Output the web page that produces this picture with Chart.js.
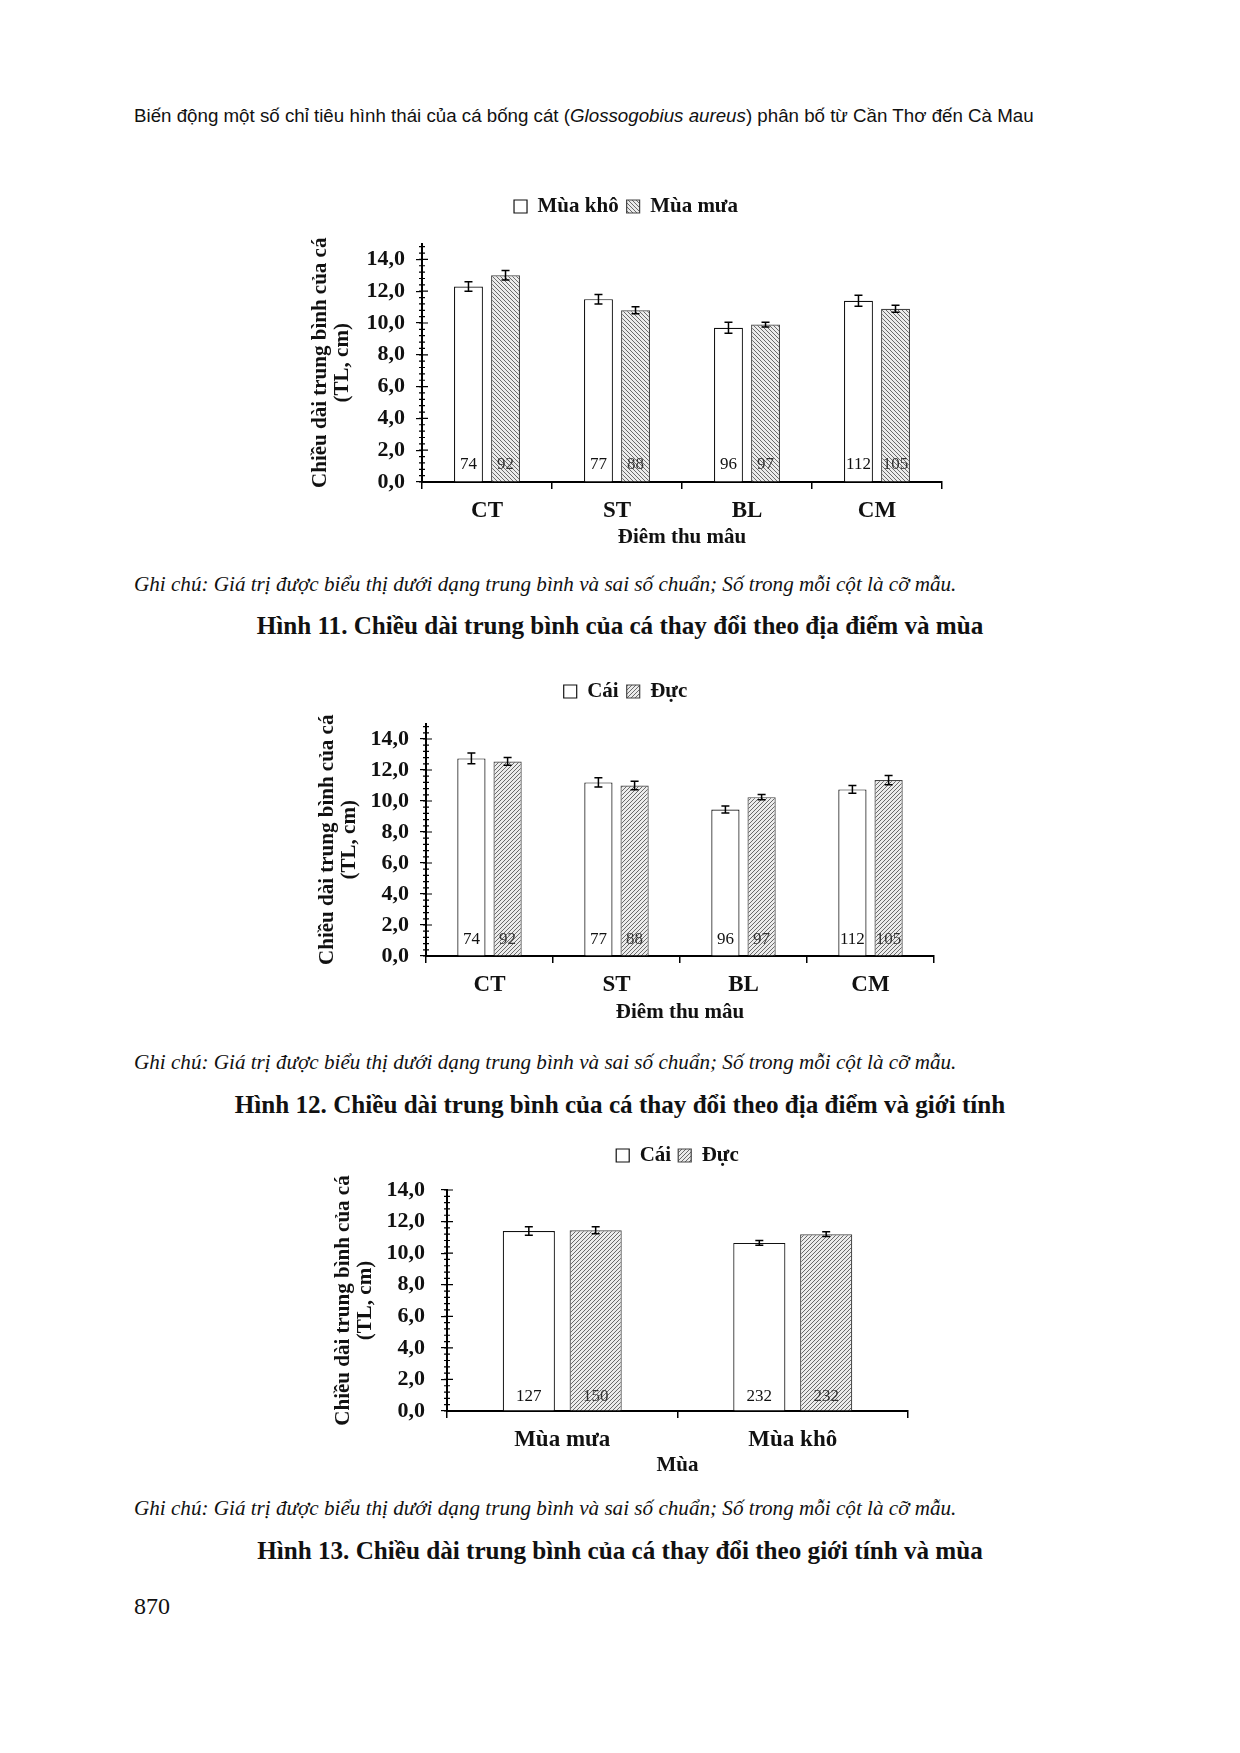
<!DOCTYPE html>
<html lang="vi">
<head>
<meta charset="utf-8">
<script src="https://cdn.jsdelivr.net/npm/chart.js@4.4.0/dist/chart.umd.min.js"></script>
<style>
  body { margin: 0; background: #fff; }
  #page { position: relative; width: 1240px; height: 1753px; background: #fff; overflow: hidden; }
  .txt { position: absolute; white-space: nowrap; line-height: 30px; color: #111; }
  .head { font-family: 'Liberation Sans', Arial, sans-serif; font-size: 18px; left: 134px; top: 101px; }
  .note { font-family: 'Liberation Serif', serif; font-style: italic; font-size: 20px; left: 134px; }
  .cap { font-family: 'Liberation Serif', serif; font-weight: bold; font-size: 22px; left: 620px; transform: translateX(-50%); }
  .num { font-family: 'Liberation Serif', serif; font-size: 24px; left: 134px; top: 1591px; }
  canvas { position: absolute; }
</style>
</head>
<body>
<div id="page">
  <div class="txt head" id="head">Biến động một số chỉ tiêu hình thái của cá bống cát (<i>Glossogobius aureus</i>) phân bố từ Cần Thơ đến Cà Mau</div>

  <canvas id="c1" width="646" height="362" style="left:300px; top:188px; width:646px; height:362px;"></canvas>
  <div class="txt note" id="note1" style="top:569px;">Ghi chú: Giá trị được biểu thị dưới dạng trung bình và sai số chuẩn; Số trong mỗi cột là cỡ mẫu.</div>
  <div class="txt cap" id="cap1" style="top:611px;">Hình 11. Chiều dài trung bình của cá thay đổi theo địa điểm và mùa</div>

  <canvas id="c2" width="630" height="352" style="left:308px; top:673px; width:630px; height:352px;"></canvas>
  <div class="txt note" id="note2" style="top:1047px;">Ghi chú: Giá trị được biểu thị dưới dạng trung bình và sai số chuẩn; Số trong mỗi cột là cỡ mẫu.</div>
  <div class="txt cap" id="cap2" style="top:1090px;">Hình 12. Chiều dài trung bình của cá thay đổi theo địa điểm và giới tính</div>

  <canvas id="c3" width="587" height="340" style="left:325px; top:1138px; width:587px; height:340px;"></canvas>
  <div class="txt note" id="note3" style="top:1493px;">Ghi chú: Giá trị được biểu thị dưới dạng trung bình và sai số chuẩn; Số trong mỗi cột là cỡ mẫu.</div>
  <div class="txt cap" id="cap3" style="top:1536px;">Hình 13. Chiều dài trung bình của cá thay đổi theo giới tính và mùa</div>

  <div class="txt num">870</div>
</div>

<script>
// Hình 11 - theo địa điểm và mùa
const sites = ['CT', 'ST', 'BL', 'CM'];
const dryMeans = [12.3, 11.5, 9.7, 11.4];
const dryErr = [0.3, 0.3, 0.35, 0.35];
const drySamples = [74, 77, 96, 112];
const rainMeans = [13.0, 10.8, 9.9, 10.9];
const rainErr = [0.3, 0.22, 0.15, 0.22];
const rainSamples = [92, 88, 97, 105];

// Hình 12 - theo địa điểm và giới tính
const femaleMeans = [12.75, 11.2, 9.45, 10.75];
const femaleErr = [0.35, 0.3, 0.22, 0.25];
const femaleSamples = [74, 77, 96, 112];
const maleMeans = [12.55, 11.0, 10.25, 11.35];
const maleErr = [0.25, 0.27, 0.17, 0.3];
const maleSamples = [92, 88, 97, 105];

// Hình 13 - theo giới tính và mùa
const seasons = ['Mùa mưa', 'Mùa khô'];
const seasonFemaleMeans = [11.4, 10.65];
const seasonFemaleErr = [0.27, 0.15];
const seasonFemaleSamples = [127, 232];
const seasonMaleMeans = [11.45, 11.2];
const seasonMaleErr = [0.22, 0.15];
const seasonMaleSamples = [150, 232];

const majorTicks = [0, 2, 4, 6, 8, 10, 12, 14];
const yTitle = ['Chiều dài trung bình của cá', '(TL, cm)'];

const serif = '"Liberation Serif", "Times New Roman", serif';
Chart.defaults.font.family = serif;
Chart.defaults.color = '#111';

function makeHatch(canvasId, dir) {
    const s = 4;
    const tile = document.createElement('canvas');
    tile.width = s;
    tile.height = s;
    const g = tile.getContext('2d');
    g.fillStyle = '#ececec';
    g.fillRect(0, 0, s, s);
    g.strokeStyle = '#6a6a6a';
    g.lineWidth = 1;
    g.beginPath();
    for (let k = -1; k <= 1; k++) {
        if (dir === 'back') {
            g.moveTo(k * s - 1, -1);
            g.lineTo(k * s + s + 1, s + 1);
        } else {
            g.moveTo(k * s - 1, s + 1);
            g.lineTo(k * s + s + 1, -1);
        }
    }
    g.stroke();
    return document.getElementById(canvasId).getContext('2d').createPattern(tile, 'repeat');
}

// thanh sai số, cỡ mẫu và vạch phụ trên trục tung
const barExtras = {
    id: 'barExtras',
    afterDatasetsDraw(chart, args, opts) {
        const ctx = chart.ctx;
        const y = chart.scales.y;
        const axisX = chart.chartArea.left;
        ctx.save();
        chart.data.datasets.forEach((ds, i) => {
            chart.getDatasetMeta(i).data.forEach((bar, j) => {
                const top = y.getPixelForValue(ds.data[j] + ds.errors[j]);
                const bot = y.getPixelForValue(ds.data[j] - ds.errors[j]);
                ctx.strokeStyle = '#000';
                ctx.lineWidth = 1.5;
                ctx.beginPath();
                ctx.moveTo(bar.x, top);
                ctx.lineTo(bar.x, bot);
                ctx.moveTo(bar.x - 4, top);
                ctx.lineTo(bar.x + 4, top);
                ctx.moveTo(bar.x - 4, bot);
                ctx.lineTo(bar.x + 4, bot);
                ctx.stroke();

                ctx.font = '17px ' + serif;
                ctx.fillStyle = ds.countColor;
                ctx.textAlign = 'center';
                ctx.textBaseline = 'middle';
                ctx.fillText(ds.samples[j], bar.x, y.getPixelForValue(0) - opts.countOffset);
            });
        });

        ctx.strokeStyle = '#000';
        ctx.lineWidth = 1.2;
        ctx.beginPath();
        for (let k = 0; k * 0.4 <= y.max + 1e-6; k++) {
            const py = y.getPixelForValue(k * 0.4);
            ctx.moveTo(axisX - 3, py);
            ctx.lineTo(axisX + 3, py);
        }
        majorTicks.forEach(v => {
            if (v > y.max) return;
            const py = y.getPixelForValue(v);
            ctx.moveTo(axisX, py);
            ctx.lineTo(axisX + 6, py);
        });
        ctx.stroke();
        ctx.restore();
    }
};

// chừa khoảng trống giữa chú giải và vùng vẽ
const legendGap = {
    id: 'legendGap',
    beforeLayout(chart, args, opts) {
        const legend = chart.legend;
        if (legend && !legend._gapPatched) {
            const fit = legend.fit;
            legend.fit = function() {
                fit.call(this);
                this.height += opts.gap;
            };
            legend._gapPatched = true;
        }
    }
};

function buildChart(id, cfg) {
    return new Chart(document.getElementById(id), {
        type: 'bar',
        data: {
            labels: cfg.labels,
            datasets: cfg.series.map(s => ({
                label: s.label,
                data: s.data,
                errors: s.errors,
                samples: s.samples,
                countColor: s.hatch ? '#333' : '#111',
                backgroundColor: s.hatch ? makeHatch(id, s.hatch) : '#ffffff',
                borderColor: s.hatch ? '#444' : '#111',
                borderWidth: 1.2,
                barPercentage: 0.78,
                categoryPercentage: cfg.catPct
            }))
        },
        options: {
            responsive: false,
            animation: false,
            devicePixelRatio: 1,
            layout: { padding: { left: cfg.padLeft, right: 4, top: 0, bottom: 0 } },
            plugins: {
                legend: {
                    position: 'top',
                    fullSize: cfg.legendFull,
                    labels: {
                        font: { size: 21, weight: 'bold' },
                        color: '#111',
                        boxWidth: 13,
                        boxHeight: 13,
                        padding: cfg.legendPad
                    }
                },
                tooltip: { enabled: false },
                legendGap: { gap: cfg.legendGap },
                barExtras: { countOffset: cfg.countOffset }
            },
            scales: {
                x: {
                    grid: { display: true, offset: true, drawOnChartArea: false, color: '#000', lineWidth: 1.5, tickLength: 7 },
                    border: { color: '#000', width: 2 },
                    ticks: { font: { size: 23, weight: 'bold' }, color: '#111', padding: 8 },
                    title: { display: true, text: cfg.xTitle, font: { size: 21, weight: 'bold' }, color: '#111', padding: 0 },
                    afterFit(scale) { scale.height = cfg.xHeight; }
                },
                y: {
                    min: 0,
                    max: cfg.yMax,
                    grid: { display: true, drawOnChartArea: false, color: '#000', lineWidth: 1.2, tickLength: 6 },
                    border: { color: '#000', width: 2 },
                    ticks: {
                        stepSize: 2,
                        font: { size: 22, weight: 'bold' },
                        color: '#111',
                        padding: cfg.tickPad,
                        callback: v => v.toFixed(1).replace('.', ',')
                    },
                    afterBuildTicks(scale) {
                        scale.ticks = majorTicks.filter(v => v <= scale.max).map(v => ({ value: v }));
                    },
                    title: { display: true, text: yTitle, font: { size: 21, weight: 'bold', lineHeight: 1.05 }, color: '#111', padding: 0 },
                    afterFit(scale) { scale.width = cfg.yWidth; }
                }
            }
        },
        plugins: [barExtras, legendGap]
    });
}

buildChart('c1', {
    labels: sites,
    series: [
        { label: 'Mùa khô', data: dryMeans, errors: dryErr, samples: drySamples },
        { label: 'Mùa mưa', data: rainMeans, errors: rainErr, samples: rainSamples, hatch: 'back' }
    ],
    xTitle: 'Điêm thu mâu',
    yMax: 15, catPct: 0.57,
    padLeft: 10, yWidth: 112, xHeight: 68, tickPad: 11,
    legendFull: true, legendPad: 8, legendGap: 16.5, countOffset: 17
});

buildChart('c2', {
    labels: sites,
    series: [
        { label: 'Cái', data: femaleMeans, errors: femaleErr, samples: femaleSamples },
        { label: 'Đực', data: maleMeans, errors: maleErr, samples: maleSamples, hatch: 'fwd' }
    ],
    xTitle: 'Điêm thu mâu',
    yMax: 15, catPct: 0.57,
    padLeft: 9, yWidth: 109, xHeight: 69, tickPad: 11,
    legendFull: true, legendPad: 8, legendGap: 11.5, countOffset: 16
});

buildChart('c3', {
    labels: seasons,
    series: [
        { label: 'Cái', data: seasonFemaleMeans, errors: seasonFemaleErr, samples: seasonFemaleSamples },
        { label: 'Đực', data: seasonMaleMeans, errors: seasonMaleErr, samples: seasonMaleSamples, hatch: 'fwd' }
    ],
    xTitle: 'Mùa',
    yMax: 14, catPct: 0.58,
    padLeft: 8, yWidth: 114, xHeight: 67, tickPad: 16,
    legendFull: false, legendPad: 7, legendGap: 14, countOffset: 14
});

// khớp độ rộng chữ với bản gốc
function fitWidth(id, target) {
    const el = document.getElementById(id);
    const size = parseFloat(getComputedStyle(el).fontSize);
    el.style.fontSize = (size * target / el.getBoundingClientRect().width).toFixed(2) + 'px';
}
fitWidth('head', 900);
fitWidth('note1', 823);
fitWidth('note2', 823);
fitWidth('note3', 823);
fitWidth('cap1', 727);
fitWidth('cap2', 771);
fitWidth('cap3', 726);
</script>
</body>
</html>
